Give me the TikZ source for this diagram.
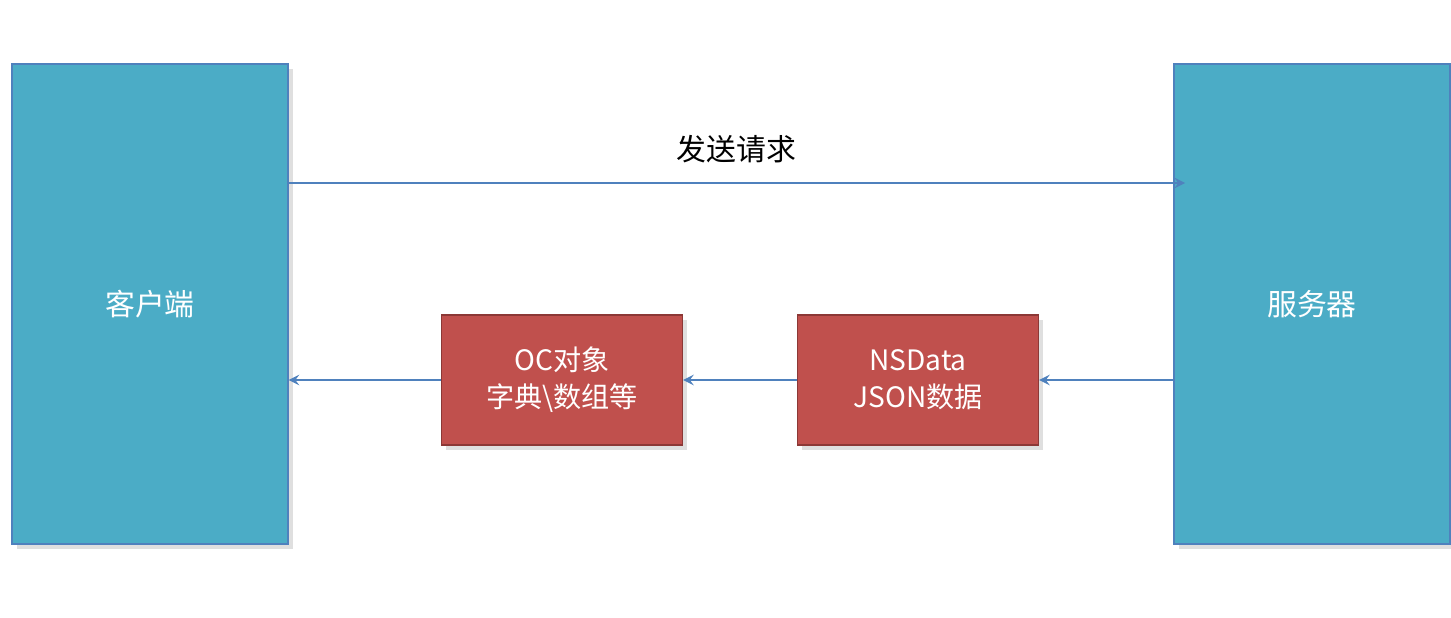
\documentclass[tikz,border=0pt]{standalone}
\usepackage{fontspec}
\setmainfont{Noto Sans CJK SC}
\usetikzlibrary{shadows}
\definecolor{boxblue}{HTML}{4BACC6}
\definecolor{boxedge}{HTML}{4F81BD}
\definecolor{boxred}{HTML}{C0504D}
\definecolor{rededge}{HTML}{8C3836}
\begin{document}
\begin{tikzpicture}[x=0.02cm, y=-0.02cm,
    side/.style={draw=boxedge, fill=boxblue, line width=0.8pt, minimum width=5.52cm, minimum height=9.6cm, text=white, font=\fontsize{17}{20}\selectfont, drop shadow={opacity=0.25}},
    data/.style={draw=rededge, fill=boxred, line width=0.8pt, minimum width=4.82cm, minimum height=2.6cm, text=white, align=center, font=\fontsize{16}{21}\selectfont, drop shadow={opacity=0.25}},
    flow/.style={draw=boxedge, line width=1.6pt, -stealth}]

    \useasboundingbox (0,0) rectangle (1451,618);

    % Boxes
    \node[side] (client) at (150, 304) {客户端};
    \node[side] (server) at (1312, 304) {服务器};
    \node[data] (oc) at (562, 380) {OC对象\\字典\textbackslash 数组等};
    \node[data] (json) at (918, 380) {NSData\\JSON数据};

    % Arrows
    \coordinate (req) at (288, 183);
    \coordinate (reqend) at (1185, 183);
    \draw[flow] (req) -- node[above=0.25cm, text=black, font=\fontsize{17}{20}\selectfont] (reqlabel) {发送请求} (reqend);
    \draw[flow] (server.west |- json) -- (json);
    \draw[flow] (json) -- (oc);
    \draw[flow] (oc) -- (client.east |- oc);

\end{tikzpicture}
\end{document}
